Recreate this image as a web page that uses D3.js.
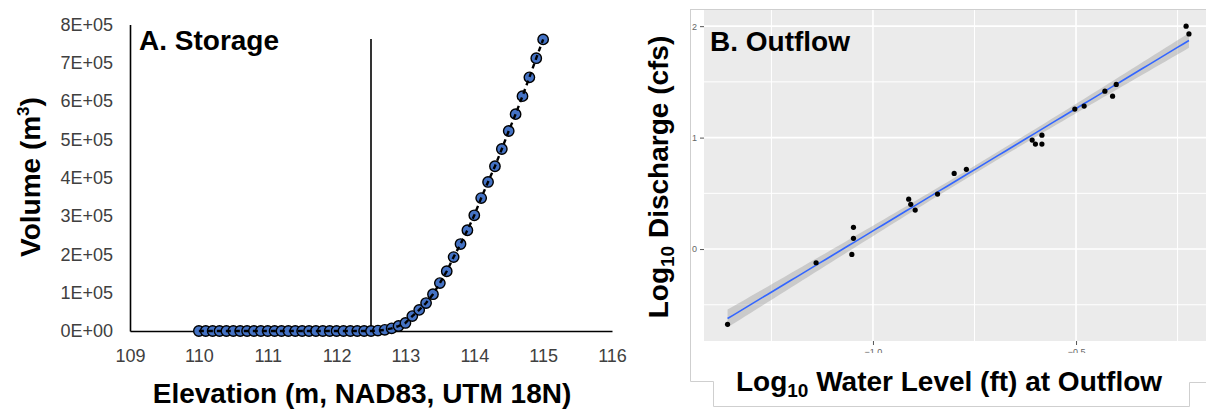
<!DOCTYPE html>
<html>
<head>
<meta charset="utf-8">
<script src="https://cdn.jsdelivr.net/npm/d3@7"></script>
<style>
  body { margin: 0; background: #fff; }
  svg { display: block; font-family: "Liberation Sans", Arial, sans-serif; }
</style>
</head>
<body>
<div id="chart"></div>
<script>
var width = 1206
var height = 412

// panel A: storage curve (elevation in m, volume in m3)
const storageElev = [110.0, 110.1, 110.2, 110.3, 110.4, 110.5, 110.6, 110.7, 110.8, 110.9,
                     111.0, 111.1, 111.2, 111.3, 111.4, 111.5, 111.6, 111.7, 111.8, 111.9,
                     112.0, 112.1, 112.2, 112.3, 112.4, 112.5, 112.6, 112.7, 112.8, 112.9,
                     113.0, 113.1, 113.2, 113.3, 113.4, 113.5, 113.6, 113.7, 113.8, 113.9,
                     114.0, 114.1, 114.2, 114.3, 114.4, 114.5, 114.6, 114.7, 114.8, 114.9,
                     115.0]
const storageVol = [0, 0, 0, 0, 0, 0, 0, 0, 0, 0,
                    0, 0, 0, 0, 0, 0, 0, 0, 0, 0,
                    0, 0, 0, 0, 0, 0, 1000, 3000, 7000, 13000,
                    21000, 39000, 55000, 73000, 96000, 125000, 156000, 193000, 227000, 263000,
                    302000, 347000, 389000, 430000, 475000, 522000, 566000, 613000, 662000, 712000,
                    761000]
const storageXTicks = [109, 110, 111, 112, 113, 114, 115, 116]
const storageYTicks = [0, 100000, 200000, 300000, 400000, 500000, 600000, 700000, 800000]
const storageYLabels = ["0E+00", "1E+05", "2E+05", "3E+05", "4E+05", "5E+05", "6E+05", "7E+05", "8E+05"]
const markerElev = 112.5
const markerTop = 762000

// panel B: outflow rating, log10 water level (ft) vs log10 discharge (cfs)
const outflowLevel = [-1.358, -1.140, -1.052, -1.048, -1.048, -0.912, -0.907, -0.896, -0.841, -0.800, -0.770,
                      -0.608, -0.600, -0.584, -0.584, -0.503, -0.480, -0.429, -0.410, -0.401, -0.229, -0.222]
const outflowDischarge = [-0.675, -0.123, -0.048, 0.096, 0.195, 0.448, 0.401, 0.350, 0.493, 0.679, 0.715,
                          0.978, 0.942, 0.942, 1.022, 1.256, 1.283, 1.417, 1.372, 1.477, 2.000, 1.930]
const outflowXMajor = [-1.0, -0.5]
const outflowXMinor = [-1.25, -0.75, -0.25]
const outflowYMajor = [0, 1, 2]
const outflowYMinor = [-0.5, 0.5, 1.5]

const svg = d3.select("#chart").append("svg")
    .attr("width", width)
    .attr("height", height)

// ---------- panel A ----------
var xA = d3.scaleLinear().domain([109, 116]).range([130, 612])
var yA = d3.scaleLinear().domain([0, 800000]).range([331, 24.5])

var gA = svg.append("g")

gA.append("g")
    .attr("transform", "translate(0,331)")
    .call(d3.axisBottom(xA).tickValues(storageXTicks).tickSize(0).tickSizeOuter(0).tickPadding(18)
        .tickFormat(d3.format("d")))
    .call(g => g.select(".domain").attr("stroke", "#000").attr("stroke-width", 1.6))
    .call(g => g.selectAll("text").attr("font-size", 18).attr("font-family", null).attr("fill", "#404040"))

gA.append("g")
    .attr("transform", "translate(130,0)")
    .call(d3.axisLeft(yA).tickValues(storageYTicks).tickSize(0).tickSizeOuter(0).tickPadding(17)
        .tickFormat((d, i) => storageYLabels[i]))
    .call(g => g.select(".domain").attr("stroke", "#000").attr("stroke-width", 1.6))
    .call(g => g.selectAll("text").attr("font-size", 18).attr("font-family", null).attr("fill", "#404040"))

// vertical marker line at the outlet elevation
gA.append("line")
    .attr("x1", xA(markerElev)).attr("x2", xA(markerElev))
    .attr("y1", yA(0)).attr("y2", yA(markerTop))
    .attr("stroke", "#000")
    .attr("stroke-width", 1.6)

var storagePts = storageElev.map((e, i) => [e, storageVol[i]])

gA.selectAll("circle.pt")
    .data(storagePts)
    .enter()
    .append("circle")
    .attr("class", "pt")
    .attr("cx", d => xA(d[0]))
    .attr("cy", d => yA(d[1]))
    .attr("r", 5.2)
    .attr("fill", "#4472C4")
    .attr("stroke", "#000")
    .attr("stroke-width", 1.4)

// dashed black connecting line drawn over the markers
gA.append("path")
    .datum(storagePts)
    .attr("d", d3.line().x(d => xA(d[0])).y(d => yA(d[1])))
    .attr("fill", "none")
    .attr("stroke", "#000")
    .attr("stroke-width", 2.4)
    .attr("stroke-dasharray", "5,4")

gA.append("text")
    .attr("x", 139).attr("y", 50)
    .attr("font-size", 28).attr("font-weight", "bold")
    .text("A. Storage")

gA.append("text")
    .attr("x", 362).attr("y", 403)
    .attr("text-anchor", "middle")
    .attr("font-size", 28).attr("font-weight", "bold")
    .text("Elevation (m, NAD83, UTM 18N)")

var yTitleA = gA.append("text")
    .attr("transform", "translate(40,177) rotate(-90)")
    .attr("text-anchor", "middle")
    .attr("font-size", 28).attr("font-weight", "bold")
yTitleA.append("tspan").text("Volume (m")
yTitleA.append("tspan").attr("font-size", 17).attr("dy", -11).text("3")
yTitleA.append("tspan").attr("dy", 11).text(")")

// ---------- panel B ----------
var xB = d3.scaleLinear().domain([-1.416, -0.18]).range([704, 1206])
var yB = d3.scaleLinear().domain([-0.825, 2.145]).range([341, 10])

var gB = svg.append("g")

gB.append("rect")
    .attr("x", 704).attr("y", 10)
    .attr("width", 1206 - 704).attr("height", 341 - 10)
    .attr("fill", "#EBEBEB")

// grid
gB.selectAll("line.ymin").data(outflowYMinor).enter().append("line")
    .attr("x1", 704).attr("x2", 1206)
    .attr("y1", d => yB(d)).attr("y2", d => yB(d))
    .attr("stroke", "#fff").attr("stroke-width", 1)
gB.selectAll("line.xmin").data(outflowXMinor).enter().append("line")
    .attr("y1", 10).attr("y2", 341)
    .attr("x1", d => xB(d)).attr("x2", d => xB(d))
    .attr("stroke", "#fff").attr("stroke-width", 1)
gB.selectAll("line.ymaj").data(outflowYMajor).enter().append("line")
    .attr("x1", 704).attr("x2", 1206)
    .attr("y1", d => yB(d)).attr("y2", d => yB(d))
    .attr("stroke", "#fff").attr("stroke-width", 1.6)
gB.selectAll("line.xmaj").data(outflowXMajor).enter().append("line")
    .attr("y1", 10).attr("y2", 341)
    .attr("x1", d => xB(d)).attr("x2", d => xB(d))
    .attr("stroke", "#fff").attr("stroke-width", 1.6)

// linear fit with 95% band, like geom_smooth(method = "lm")
var n = outflowLevel.length
var mx = d3.mean(outflowLevel)
var my = d3.mean(outflowDischarge)
var sxx = d3.sum(outflowLevel, x => (x - mx) * (x - mx))
var sxy = d3.sum(outflowLevel, (x, i) => (x - mx) * (outflowDischarge[i] - my))
var slope = sxy / sxx
var icpt = my - slope * mx
var sse = d3.sum(outflowLevel, (x, i) => Math.pow(outflowDischarge[i] - (icpt + slope * x), 2))
var sres = Math.sqrt(sse / (n - 2))
var tval = 2.086

var xr = d3.extent(outflowLevel)
var fit = d3.range(0, 81).map(k => {
    let x = xr[0] + (xr[1] - xr[0]) * k / 80
    let yhat = icpt + slope * x
    let se = sres * Math.sqrt(1 / n + (x - mx) * (x - mx) / sxx)
    return {x: x, y: yhat, lo: yhat - tval * se, hi: yhat + tval * se}
})

gB.append("path")
    .datum(fit)
    .attr("d", d3.area().x(d => xB(d.x)).y0(d => yB(d.lo)).y1(d => yB(d.hi)))
    .attr("fill", "#999999")
    .attr("fill-opacity", 0.4)

gB.append("path")
    .datum(fit)
    .attr("d", d3.line().x(d => xB(d.x)).y(d => yB(d.y)))
    .attr("fill", "none")
    .attr("stroke", "#3366FF")
    .attr("stroke-width", 1.6)

gB.selectAll("circle.obs")
    .data(outflowLevel)
    .enter()
    .append("circle")
    .attr("class", "obs")
    .attr("cx", d => xB(d))
    .attr("cy", (d, i) => yB(outflowDischarge[i]))
    .attr("r", 2.6)
    .attr("fill", "#000")

gB.append("g")
    .attr("transform", "translate(704,0)")
    .call(d3.axisLeft(yB).tickValues(outflowYMajor).tickSize(4).tickPadding(3).tickFormat(d3.format("d")))
    .call(g => g.select(".domain").remove())
    .call(g => g.selectAll("line").attr("stroke", "#555"))
    .call(g => g.selectAll("text").attr("font-size", 9).attr("font-family", null).attr("fill", "#666"))

gB.append("g")
    .attr("transform", "translate(0,341)")
    .call(d3.axisBottom(xB).tickValues(outflowXMajor).tickSize(4).tickPadding(4).tickFormat(d3.format(".1f")))
    .call(g => g.select(".domain").remove())
    .call(g => g.selectAll("line").attr("stroke", "#555"))
    .call(g => g.selectAll("text").attr("font-size", 9).attr("font-family", null).attr("fill", "#666"))

gB.append("text")
    .attr("x", 710).attr("y", 51)
    .attr("font-size", 28).attr("font-weight", "bold")
    .text("B. Outflow")

// white caption box for the x title, it hides half of the tick labels
gB.append("rect")
    .attr("x", 713).attr("y", 353)
    .attr("width", 1189 - 713).attr("height", 406 - 353)
    .attr("fill", "#fff")

gB.append("path")
    .attr("d", "M690,9.5H1206M690.5,9V381.5H713.5V406.5H1189.5V382.5H1206")
    .attr("fill", "none")
    .attr("stroke", "#cfcfcf")
    .attr("stroke-width", 1)

var xTitleB = gB.append("text")
    .attr("x", 949).attr("y", 391)
    .attr("text-anchor", "middle")
    .attr("font-size", 28).attr("font-weight", "bold")
xTitleB.append("tspan").text("Log")
xTitleB.append("tspan").attr("font-size", 19).attr("dy", 6).text("10")
xTitleB.append("tspan").attr("dy", -6).text(" Water Level (ft) at Outflow")

var yTitleB = gB.append("text")
    .attr("transform", "translate(668,177) rotate(-90)")
    .attr("text-anchor", "middle")
    .attr("font-size", 28).attr("font-weight", "bold")
yTitleB.append("tspan").text("Log")
yTitleB.append("tspan").attr("font-size", 19).attr("dy", 6).text("10")
yTitleB.append("tspan").attr("dy", -6).text(" Discharge (cfs)")
</script>
</body>
</html>
